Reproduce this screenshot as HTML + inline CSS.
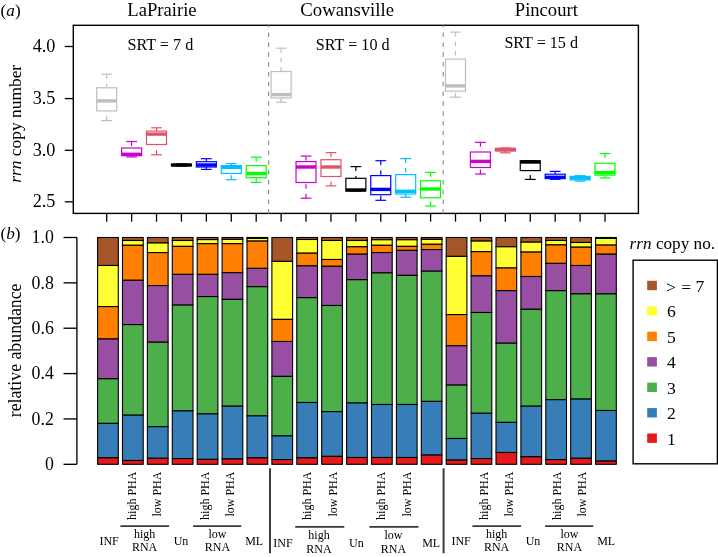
<!DOCTYPE html>
<html><head><meta charset="utf-8"><style>
html,body{margin:0;padding:0;background:#fff;}
body{width:718px;height:557px;overflow:hidden;}
svg{display:block;font-family:"Liberation Serif", serif;will-change:transform;}
</style></head><body>
<svg width="718" height="557" viewBox="0 0 718 557" fill="#000">
<rect width="718" height="557" fill="#fff"/>
<text x="0.6" y="15.7" font-size="17.2"><tspan>(</tspan><tspan font-style="italic">a</tspan><tspan>)</tspan></text>
<text x="127.3" y="15.6" font-size="18.65">LaPrairie</text>
<text x="300.3" y="15.8" font-size="18.75">Cowansville</text>
<text x="514.8" y="15.8" font-size="18.6">Pincourt</text>
<text x="127.4" y="49.5" font-size="16.2">SRT = 7 d</text>
<text x="315.8" y="49.8" font-size="16.15">SRT = 10 d</text>
<text x="504.4" y="47.8" font-size="16.1">SRT = 15 d</text>
<text transform="translate(21.1,123.8) rotate(-90)" text-anchor="middle" font-size="17.4"><tspan font-style="italic">rrn</tspan> copy number</text>
<line x1="64.8" y1="46.5" x2="73.3" y2="46.5" stroke="#000" stroke-width="1.3"/>
<text x="55.4" y="52.1" font-size="18.2" text-anchor="end">4.0</text>
<line x1="64.8" y1="98.6" x2="73.3" y2="98.6" stroke="#000" stroke-width="1.3"/>
<text x="55.4" y="104.2" font-size="18.2" text-anchor="end">3.5</text>
<line x1="64.8" y1="150.3" x2="73.3" y2="150.3" stroke="#000" stroke-width="1.3"/>
<text x="55.4" y="155.9" font-size="18.2" text-anchor="end">3.0</text>
<line x1="64.8" y1="201.8" x2="73.3" y2="201.8" stroke="#000" stroke-width="1.3"/>
<text x="55.4" y="207.4" font-size="18.2" text-anchor="end">2.5</text>
<line x1="106.70" y1="74.2" x2="106.70" y2="87.8" stroke="#bebebe" stroke-width="1.2" stroke-dasharray="4.5 5"/>
<line x1="106.70" y1="120.6" x2="106.70" y2="110.9" stroke="#bebebe" stroke-width="1.2" stroke-dasharray="4.5 5"/>
<line x1="101.30" y1="74.2" x2="112.10" y2="74.2" stroke="#bebebe" stroke-width="1.2"/>
<line x1="101.30" y1="120.6" x2="112.10" y2="120.6" stroke="#bebebe" stroke-width="1.2"/>
<rect x="96.70" y="87.8" width="20.0" height="23.10" fill="none" stroke="#bebebe" stroke-width="1.2"/>
<line x1="96.70" y1="100.9" x2="116.70" y2="100.9" stroke="#bebebe" stroke-width="3.4"/>
<line x1="131.62" y1="141.5" x2="131.62" y2="148.0" stroke="#cd00cd" stroke-width="1.2" stroke-dasharray="4.5 5"/>
<line x1="131.62" y1="156.9" x2="131.62" y2="155.7" stroke="#cd00cd" stroke-width="1.2" stroke-dasharray="4.5 5"/>
<line x1="126.22" y1="141.5" x2="137.02" y2="141.5" stroke="#cd00cd" stroke-width="1.2"/>
<line x1="126.22" y1="156.9" x2="137.02" y2="156.9" stroke="#cd00cd" stroke-width="1.2"/>
<rect x="121.62" y="148.0" width="20.0" height="7.70" fill="none" stroke="#cd00cd" stroke-width="1.2"/>
<line x1="121.62" y1="154.3" x2="141.62" y2="154.3" stroke="#cd00cd" stroke-width="3.4"/>
<line x1="156.53" y1="127.8" x2="156.53" y2="131.1" stroke="#e0536b" stroke-width="1.2" stroke-dasharray="4.5 5"/>
<line x1="156.53" y1="154.8" x2="156.53" y2="144.5" stroke="#e0536b" stroke-width="1.2" stroke-dasharray="4.5 5"/>
<line x1="151.13" y1="127.8" x2="161.93" y2="127.8" stroke="#e0536b" stroke-width="1.2"/>
<line x1="151.13" y1="154.8" x2="161.93" y2="154.8" stroke="#e0536b" stroke-width="1.2"/>
<rect x="146.53" y="131.1" width="20.0" height="13.40" fill="none" stroke="#e0536b" stroke-width="1.2"/>
<line x1="146.53" y1="134.1" x2="166.53" y2="134.1" stroke="#e0536b" stroke-width="3.4"/>
<line x1="176.04" y1="164.0" x2="186.84" y2="164.0" stroke="#000000" stroke-width="1.2"/>
<line x1="176.04" y1="166.0" x2="186.84" y2="166.0" stroke="#000000" stroke-width="1.2"/>
<rect x="171.44" y="164.3" width="20.0" height="1.40" fill="none" stroke="#000000" stroke-width="1.2"/>
<line x1="171.44" y1="165.0" x2="191.44" y2="165.0" stroke="#000000" stroke-width="3.4"/>
<line x1="206.36" y1="158.7" x2="206.36" y2="161.7" stroke="#0000ff" stroke-width="1.2" stroke-dasharray="4.5 5"/>
<line x1="206.36" y1="169.4" x2="206.36" y2="167.0" stroke="#0000ff" stroke-width="1.2" stroke-dasharray="4.5 5"/>
<line x1="200.96" y1="158.7" x2="211.76" y2="158.7" stroke="#0000ff" stroke-width="1.2"/>
<line x1="200.96" y1="169.4" x2="211.76" y2="169.4" stroke="#0000ff" stroke-width="1.2"/>
<rect x="196.36" y="161.7" width="20.0" height="5.30" fill="none" stroke="#0000ff" stroke-width="1.2"/>
<line x1="196.36" y1="165.0" x2="216.36" y2="165.0" stroke="#0000ff" stroke-width="3.4"/>
<line x1="231.27" y1="163.6" x2="231.27" y2="165.6" stroke="#00bfff" stroke-width="1.2" stroke-dasharray="4.5 5"/>
<line x1="231.27" y1="179.7" x2="231.27" y2="173.5" stroke="#00bfff" stroke-width="1.2" stroke-dasharray="4.5 5"/>
<line x1="225.87" y1="163.6" x2="236.67" y2="163.6" stroke="#00bfff" stroke-width="1.2"/>
<line x1="225.87" y1="179.7" x2="236.67" y2="179.7" stroke="#00bfff" stroke-width="1.2"/>
<rect x="221.27" y="165.6" width="20.0" height="7.90" fill="none" stroke="#00bfff" stroke-width="1.2"/>
<line x1="221.27" y1="167.3" x2="241.27" y2="167.3" stroke="#00bfff" stroke-width="3.4"/>
<line x1="256.19" y1="157.2" x2="256.19" y2="165.6" stroke="#00ff00" stroke-width="1.2" stroke-dasharray="4.5 5"/>
<line x1="256.19" y1="182.4" x2="256.19" y2="177.7" stroke="#00ff00" stroke-width="1.2" stroke-dasharray="4.5 5"/>
<line x1="250.79" y1="157.2" x2="261.59" y2="157.2" stroke="#00ff00" stroke-width="1.2"/>
<line x1="250.79" y1="182.4" x2="261.59" y2="182.4" stroke="#00ff00" stroke-width="1.2"/>
<rect x="246.19" y="165.6" width="20.0" height="12.10" fill="none" stroke="#00ff00" stroke-width="1.2"/>
<line x1="246.19" y1="173.5" x2="266.19" y2="173.5" stroke="#00ff00" stroke-width="3.4"/>
<line x1="281.11" y1="48.2" x2="281.11" y2="71.5" stroke="#bebebe" stroke-width="1.2" stroke-dasharray="4.5 5"/>
<line x1="281.11" y1="102.2" x2="281.11" y2="97.9" stroke="#bebebe" stroke-width="1.2" stroke-dasharray="4.5 5"/>
<line x1="275.71" y1="48.2" x2="286.50" y2="48.2" stroke="#bebebe" stroke-width="1.2"/>
<line x1="275.71" y1="102.2" x2="286.50" y2="102.2" stroke="#bebebe" stroke-width="1.2"/>
<rect x="271.11" y="71.5" width="20.0" height="26.40" fill="none" stroke="#bebebe" stroke-width="1.2"/>
<line x1="271.11" y1="94.6" x2="291.11" y2="94.6" stroke="#bebebe" stroke-width="3.4"/>
<line x1="306.02" y1="156.1" x2="306.02" y2="161.6" stroke="#cd00cd" stroke-width="1.2" stroke-dasharray="4.5 5"/>
<line x1="306.02" y1="198.2" x2="306.02" y2="182.5" stroke="#cd00cd" stroke-width="1.2" stroke-dasharray="4.5 5"/>
<line x1="300.62" y1="156.1" x2="311.42" y2="156.1" stroke="#cd00cd" stroke-width="1.2"/>
<line x1="300.62" y1="198.2" x2="311.42" y2="198.2" stroke="#cd00cd" stroke-width="1.2"/>
<rect x="296.02" y="161.6" width="20.0" height="20.90" fill="none" stroke="#cd00cd" stroke-width="1.2"/>
<line x1="296.02" y1="167.0" x2="316.02" y2="167.0" stroke="#cd00cd" stroke-width="3.4"/>
<line x1="330.94" y1="152.6" x2="330.94" y2="159.7" stroke="#e0536b" stroke-width="1.2" stroke-dasharray="4.5 5"/>
<line x1="330.94" y1="185.9" x2="330.94" y2="176.5" stroke="#e0536b" stroke-width="1.2" stroke-dasharray="4.5 5"/>
<line x1="325.54" y1="152.6" x2="336.33" y2="152.6" stroke="#e0536b" stroke-width="1.2"/>
<line x1="325.54" y1="185.9" x2="336.33" y2="185.9" stroke="#e0536b" stroke-width="1.2"/>
<rect x="320.94" y="159.7" width="20.0" height="16.80" fill="none" stroke="#e0536b" stroke-width="1.2"/>
<line x1="320.94" y1="167.0" x2="340.94" y2="167.0" stroke="#e0536b" stroke-width="3.4"/>
<line x1="355.85" y1="166.6" x2="355.85" y2="178.3" stroke="#000000" stroke-width="1.2" stroke-dasharray="4.5 5"/>
<line x1="350.45" y1="166.6" x2="361.25" y2="166.6" stroke="#000000" stroke-width="1.2"/>
<line x1="350.45" y1="190.9" x2="361.25" y2="190.9" stroke="#000000" stroke-width="1.2"/>
<rect x="345.85" y="178.3" width="20.0" height="12.60" fill="none" stroke="#000000" stroke-width="1.2"/>
<line x1="345.85" y1="190.0" x2="365.85" y2="190.0" stroke="#000000" stroke-width="3.4"/>
<line x1="380.76" y1="160.7" x2="380.76" y2="175.6" stroke="#0000ff" stroke-width="1.2" stroke-dasharray="4.5 5"/>
<line x1="380.76" y1="200.3" x2="380.76" y2="194.7" stroke="#0000ff" stroke-width="1.2" stroke-dasharray="4.5 5"/>
<line x1="375.37" y1="160.7" x2="386.16" y2="160.7" stroke="#0000ff" stroke-width="1.2"/>
<line x1="375.37" y1="200.3" x2="386.16" y2="200.3" stroke="#0000ff" stroke-width="1.2"/>
<rect x="370.76" y="175.6" width="20.0" height="19.10" fill="none" stroke="#0000ff" stroke-width="1.2"/>
<line x1="370.76" y1="189.4" x2="390.76" y2="189.4" stroke="#0000ff" stroke-width="3.4"/>
<line x1="405.68" y1="158.6" x2="405.68" y2="174.6" stroke="#00bfff" stroke-width="1.2" stroke-dasharray="4.5 5"/>
<line x1="405.68" y1="197.2" x2="405.68" y2="194.0" stroke="#00bfff" stroke-width="1.2" stroke-dasharray="4.5 5"/>
<line x1="400.28" y1="158.6" x2="411.08" y2="158.6" stroke="#00bfff" stroke-width="1.2"/>
<line x1="400.28" y1="197.2" x2="411.08" y2="197.2" stroke="#00bfff" stroke-width="1.2"/>
<rect x="395.68" y="174.6" width="20.0" height="19.40" fill="none" stroke="#00bfff" stroke-width="1.2"/>
<line x1="395.68" y1="191.3" x2="415.68" y2="191.3" stroke="#00bfff" stroke-width="3.4"/>
<line x1="430.59" y1="172.4" x2="430.59" y2="180.8" stroke="#00ff00" stroke-width="1.2" stroke-dasharray="4.5 5"/>
<line x1="430.59" y1="206.0" x2="430.59" y2="197.8" stroke="#00ff00" stroke-width="1.2" stroke-dasharray="4.5 5"/>
<line x1="425.19" y1="172.4" x2="435.99" y2="172.4" stroke="#00ff00" stroke-width="1.2"/>
<line x1="425.19" y1="206.0" x2="435.99" y2="206.0" stroke="#00ff00" stroke-width="1.2"/>
<rect x="420.59" y="180.8" width="20.0" height="17.00" fill="none" stroke="#00ff00" stroke-width="1.2"/>
<line x1="420.59" y1="189.0" x2="440.59" y2="189.0" stroke="#00ff00" stroke-width="3.4"/>
<line x1="455.51" y1="32.1" x2="455.51" y2="59.1" stroke="#bebebe" stroke-width="1.2" stroke-dasharray="4.5 5"/>
<line x1="455.51" y1="97.2" x2="455.51" y2="91.1" stroke="#bebebe" stroke-width="1.2" stroke-dasharray="4.5 5"/>
<line x1="450.11" y1="32.1" x2="460.91" y2="32.1" stroke="#bebebe" stroke-width="1.2"/>
<line x1="450.11" y1="97.2" x2="460.91" y2="97.2" stroke="#bebebe" stroke-width="1.2"/>
<rect x="445.51" y="59.1" width="20.0" height="32.00" fill="none" stroke="#bebebe" stroke-width="1.2"/>
<line x1="445.51" y1="85.9" x2="465.51" y2="85.9" stroke="#bebebe" stroke-width="3.4"/>
<line x1="480.42" y1="142.3" x2="480.42" y2="152.0" stroke="#cd00cd" stroke-width="1.2" stroke-dasharray="4.5 5"/>
<line x1="480.42" y1="174.0" x2="480.42" y2="167.5" stroke="#cd00cd" stroke-width="1.2" stroke-dasharray="4.5 5"/>
<line x1="475.02" y1="142.3" x2="485.82" y2="142.3" stroke="#cd00cd" stroke-width="1.2"/>
<line x1="475.02" y1="174.0" x2="485.82" y2="174.0" stroke="#cd00cd" stroke-width="1.2"/>
<rect x="470.42" y="152.0" width="20.0" height="15.50" fill="none" stroke="#cd00cd" stroke-width="1.2"/>
<line x1="470.42" y1="161.4" x2="490.42" y2="161.4" stroke="#cd00cd" stroke-width="3.4"/>
<line x1="505.34" y1="152.8" x2="505.34" y2="151.0" stroke="#e0536b" stroke-width="1.2" stroke-dasharray="4.5 5"/>
<line x1="499.94" y1="148.0" x2="510.74" y2="148.0" stroke="#e0536b" stroke-width="1.2"/>
<line x1="499.94" y1="152.8" x2="510.74" y2="152.8" stroke="#e0536b" stroke-width="1.2"/>
<rect x="495.34" y="148.3" width="20.0" height="2.70" fill="none" stroke="#e0536b" stroke-width="1.2"/>
<line x1="495.34" y1="149.6" x2="515.34" y2="149.6" stroke="#e0536b" stroke-width="3.4"/>
<line x1="530.25" y1="179.4" x2="530.25" y2="170.6" stroke="#000000" stroke-width="1.2" stroke-dasharray="4.5 5"/>
<line x1="524.86" y1="160.8" x2="535.65" y2="160.8" stroke="#000000" stroke-width="1.2"/>
<line x1="524.86" y1="179.4" x2="535.65" y2="179.4" stroke="#000000" stroke-width="1.2"/>
<rect x="520.25" y="160.8" width="20.0" height="9.80" fill="none" stroke="#000000" stroke-width="1.2"/>
<line x1="520.25" y1="162.0" x2="540.25" y2="162.0" stroke="#000000" stroke-width="3.4"/>
<line x1="555.17" y1="171.4" x2="555.17" y2="174.2" stroke="#0000ff" stroke-width="1.2" stroke-dasharray="4.5 5"/>
<line x1="555.17" y1="179.3" x2="555.17" y2="178.6" stroke="#0000ff" stroke-width="1.2" stroke-dasharray="4.5 5"/>
<line x1="549.77" y1="171.4" x2="560.57" y2="171.4" stroke="#0000ff" stroke-width="1.2"/>
<line x1="549.77" y1="179.3" x2="560.57" y2="179.3" stroke="#0000ff" stroke-width="1.2"/>
<rect x="545.17" y="174.2" width="20.0" height="4.40" fill="none" stroke="#0000ff" stroke-width="1.2"/>
<line x1="545.17" y1="177.3" x2="565.17" y2="177.3" stroke="#0000ff" stroke-width="3.4"/>
<line x1="580.09" y1="175.7" x2="580.09" y2="176.4" stroke="#00bfff" stroke-width="1.2" stroke-dasharray="4.5 5"/>
<line x1="580.09" y1="181.1" x2="580.09" y2="179.9" stroke="#00bfff" stroke-width="1.2" stroke-dasharray="4.5 5"/>
<line x1="574.69" y1="175.7" x2="585.49" y2="175.7" stroke="#00bfff" stroke-width="1.2"/>
<line x1="574.69" y1="181.1" x2="585.49" y2="181.1" stroke="#00bfff" stroke-width="1.2"/>
<rect x="570.09" y="176.4" width="20.0" height="3.50" fill="none" stroke="#00bfff" stroke-width="1.2"/>
<line x1="570.09" y1="178.0" x2="590.09" y2="178.0" stroke="#00bfff" stroke-width="3.4"/>
<line x1="605.00" y1="153.5" x2="605.00" y2="163.2" stroke="#00ff00" stroke-width="1.2" stroke-dasharray="4.5 5"/>
<line x1="605.00" y1="177.9" x2="605.00" y2="175.1" stroke="#00ff00" stroke-width="1.2" stroke-dasharray="4.5 5"/>
<line x1="599.60" y1="153.5" x2="610.40" y2="153.5" stroke="#00ff00" stroke-width="1.2"/>
<line x1="599.60" y1="177.9" x2="610.40" y2="177.9" stroke="#00ff00" stroke-width="1.2"/>
<rect x="595.00" y="163.2" width="20.0" height="11.90" fill="none" stroke="#00ff00" stroke-width="1.2"/>
<line x1="595.00" y1="172.6" x2="615.00" y2="172.6" stroke="#00ff00" stroke-width="3.4"/>
<rect x="73.3" y="25.3" width="565.10" height="188.10" fill="none" stroke="#000" stroke-width="1.4"/>
<line x1="268.6" y1="25.3" x2="268.6" y2="213.4" stroke="#939393" stroke-width="1.2" stroke-dasharray="4.5 5.32" stroke-dashoffset="2.52"/>
<line x1="443.2" y1="25.3" x2="443.2" y2="213.4" stroke="#939393" stroke-width="1.2" stroke-dasharray="4.5 5.32" stroke-dashoffset="2.52"/>
<line x1="106.70" y1="213.4" x2="106.70" y2="221.7" stroke="#000" stroke-width="1.3"/>
<line x1="131.62" y1="213.4" x2="131.62" y2="221.7" stroke="#000" stroke-width="1.3"/>
<line x1="156.53" y1="213.4" x2="156.53" y2="221.7" stroke="#000" stroke-width="1.3"/>
<line x1="181.44" y1="213.4" x2="181.44" y2="221.7" stroke="#000" stroke-width="1.3"/>
<line x1="206.36" y1="213.4" x2="206.36" y2="221.7" stroke="#000" stroke-width="1.3"/>
<line x1="231.27" y1="213.4" x2="231.27" y2="221.7" stroke="#000" stroke-width="1.3"/>
<line x1="256.19" y1="213.4" x2="256.19" y2="221.7" stroke="#000" stroke-width="1.3"/>
<line x1="281.11" y1="213.4" x2="281.11" y2="221.7" stroke="#000" stroke-width="1.3"/>
<line x1="306.02" y1="213.4" x2="306.02" y2="221.7" stroke="#000" stroke-width="1.3"/>
<line x1="330.94" y1="213.4" x2="330.94" y2="221.7" stroke="#000" stroke-width="1.3"/>
<line x1="355.85" y1="213.4" x2="355.85" y2="221.7" stroke="#000" stroke-width="1.3"/>
<line x1="380.76" y1="213.4" x2="380.76" y2="221.7" stroke="#000" stroke-width="1.3"/>
<line x1="405.68" y1="213.4" x2="405.68" y2="221.7" stroke="#000" stroke-width="1.3"/>
<line x1="430.59" y1="213.4" x2="430.59" y2="221.7" stroke="#000" stroke-width="1.3"/>
<line x1="455.51" y1="213.4" x2="455.51" y2="221.7" stroke="#000" stroke-width="1.3"/>
<line x1="480.42" y1="213.4" x2="480.42" y2="221.7" stroke="#000" stroke-width="1.3"/>
<line x1="505.34" y1="213.4" x2="505.34" y2="221.7" stroke="#000" stroke-width="1.3"/>
<line x1="530.25" y1="213.4" x2="530.25" y2="221.7" stroke="#000" stroke-width="1.3"/>
<line x1="555.17" y1="213.4" x2="555.17" y2="221.7" stroke="#000" stroke-width="1.3"/>
<line x1="580.09" y1="213.4" x2="580.09" y2="221.7" stroke="#000" stroke-width="1.3"/>
<line x1="605.00" y1="213.4" x2="605.00" y2="221.7" stroke="#000" stroke-width="1.3"/>
<rect x="97.60" y="237.50" width="20.7" height="28.00" fill="#a65628" stroke="#000" stroke-width="1.1"/>
<rect x="97.60" y="265.50" width="20.7" height="41.10" fill="#ffff33" stroke="#000" stroke-width="1.1"/>
<rect x="97.60" y="306.60" width="20.7" height="32.40" fill="#ff7f00" stroke="#000" stroke-width="1.1"/>
<rect x="97.60" y="339.00" width="20.7" height="39.80" fill="#984ea3" stroke="#000" stroke-width="1.1"/>
<rect x="97.60" y="378.80" width="20.7" height="44.60" fill="#4daf4a" stroke="#000" stroke-width="1.1"/>
<rect x="97.60" y="423.40" width="20.7" height="34.50" fill="#377eb8" stroke="#000" stroke-width="1.1"/>
<rect x="97.60" y="457.90" width="20.7" height="6.40" fill="#e41a1c" stroke="#000" stroke-width="1.1"/>
<rect x="122.50" y="237.50" width="20.7" height="3.00" fill="#a65628" stroke="#000" stroke-width="1.1"/>
<rect x="122.50" y="240.50" width="20.7" height="4.80" fill="#ffff33" stroke="#000" stroke-width="1.1"/>
<rect x="122.50" y="245.30" width="20.7" height="35.00" fill="#ff7f00" stroke="#000" stroke-width="1.1"/>
<rect x="122.50" y="280.30" width="20.7" height="44.30" fill="#984ea3" stroke="#000" stroke-width="1.1"/>
<rect x="122.50" y="324.60" width="20.7" height="90.60" fill="#4daf4a" stroke="#000" stroke-width="1.1"/>
<rect x="122.50" y="415.20" width="20.7" height="45.30" fill="#377eb8" stroke="#000" stroke-width="1.1"/>
<rect x="122.50" y="460.50" width="20.7" height="3.80" fill="#e41a1c" stroke="#000" stroke-width="1.1"/>
<rect x="147.40" y="237.50" width="20.7" height="5.50" fill="#a65628" stroke="#000" stroke-width="1.1"/>
<rect x="147.40" y="243.00" width="20.7" height="9.60" fill="#ffff33" stroke="#000" stroke-width="1.1"/>
<rect x="147.40" y="252.60" width="20.7" height="33.00" fill="#ff7f00" stroke="#000" stroke-width="1.1"/>
<rect x="147.40" y="285.60" width="20.7" height="56.60" fill="#984ea3" stroke="#000" stroke-width="1.1"/>
<rect x="147.40" y="342.20" width="20.7" height="84.50" fill="#4daf4a" stroke="#000" stroke-width="1.1"/>
<rect x="147.40" y="426.70" width="20.7" height="31.60" fill="#377eb8" stroke="#000" stroke-width="1.1"/>
<rect x="147.40" y="458.30" width="20.7" height="6.00" fill="#e41a1c" stroke="#000" stroke-width="1.1"/>
<rect x="172.30" y="237.50" width="20.7" height="3.00" fill="#a65628" stroke="#000" stroke-width="1.1"/>
<rect x="172.30" y="240.50" width="20.7" height="5.90" fill="#ffff33" stroke="#000" stroke-width="1.1"/>
<rect x="172.30" y="246.40" width="20.7" height="28.00" fill="#ff7f00" stroke="#000" stroke-width="1.1"/>
<rect x="172.30" y="274.40" width="20.7" height="30.70" fill="#984ea3" stroke="#000" stroke-width="1.1"/>
<rect x="172.30" y="305.10" width="20.7" height="105.80" fill="#4daf4a" stroke="#000" stroke-width="1.1"/>
<rect x="172.30" y="410.90" width="20.7" height="47.70" fill="#377eb8" stroke="#000" stroke-width="1.1"/>
<rect x="172.30" y="458.60" width="20.7" height="5.70" fill="#e41a1c" stroke="#000" stroke-width="1.1"/>
<rect x="197.20" y="237.50" width="20.7" height="2.10" fill="#a65628" stroke="#000" stroke-width="1.1"/>
<rect x="197.20" y="239.60" width="20.7" height="4.10" fill="#ffff33" stroke="#000" stroke-width="1.1"/>
<rect x="197.20" y="243.70" width="20.7" height="30.70" fill="#ff7f00" stroke="#000" stroke-width="1.1"/>
<rect x="197.20" y="274.40" width="20.7" height="22.20" fill="#984ea3" stroke="#000" stroke-width="1.1"/>
<rect x="197.20" y="296.60" width="20.7" height="117.30" fill="#4daf4a" stroke="#000" stroke-width="1.1"/>
<rect x="197.20" y="413.90" width="20.7" height="45.50" fill="#377eb8" stroke="#000" stroke-width="1.1"/>
<rect x="197.20" y="459.40" width="20.7" height="4.90" fill="#e41a1c" stroke="#000" stroke-width="1.1"/>
<rect x="222.10" y="237.50" width="20.7" height="1.90" fill="#a65628" stroke="#000" stroke-width="1.1"/>
<rect x="222.10" y="239.40" width="20.7" height="4.30" fill="#ffff33" stroke="#000" stroke-width="1.1"/>
<rect x="222.10" y="243.70" width="20.7" height="29.00" fill="#ff7f00" stroke="#000" stroke-width="1.1"/>
<rect x="222.10" y="272.70" width="20.7" height="26.70" fill="#984ea3" stroke="#000" stroke-width="1.1"/>
<rect x="222.10" y="299.40" width="20.7" height="106.80" fill="#4daf4a" stroke="#000" stroke-width="1.1"/>
<rect x="222.10" y="406.20" width="20.7" height="52.80" fill="#377eb8" stroke="#000" stroke-width="1.1"/>
<rect x="222.10" y="459.00" width="20.7" height="5.30" fill="#e41a1c" stroke="#000" stroke-width="1.1"/>
<rect x="247.00" y="237.50" width="20.7" height="0.90" fill="#a65628" stroke="#000" stroke-width="1.1"/>
<rect x="247.00" y="238.40" width="20.7" height="2.70" fill="#ffff33" stroke="#000" stroke-width="1.1"/>
<rect x="247.00" y="241.10" width="20.7" height="27.30" fill="#ff7f00" stroke="#000" stroke-width="1.1"/>
<rect x="247.00" y="268.40" width="20.7" height="18.30" fill="#984ea3" stroke="#000" stroke-width="1.1"/>
<rect x="247.00" y="286.70" width="20.7" height="129.20" fill="#4daf4a" stroke="#000" stroke-width="1.1"/>
<rect x="247.00" y="415.90" width="20.7" height="42.00" fill="#377eb8" stroke="#000" stroke-width="1.1"/>
<rect x="247.00" y="457.90" width="20.7" height="6.40" fill="#e41a1c" stroke="#000" stroke-width="1.1"/>
<rect x="271.90" y="237.50" width="20.7" height="23.90" fill="#a65628" stroke="#000" stroke-width="1.1"/>
<rect x="271.90" y="261.40" width="20.7" height="58.00" fill="#ffff33" stroke="#000" stroke-width="1.1"/>
<rect x="271.90" y="319.40" width="20.7" height="22.10" fill="#ff7f00" stroke="#000" stroke-width="1.1"/>
<rect x="271.90" y="341.50" width="20.7" height="34.90" fill="#984ea3" stroke="#000" stroke-width="1.1"/>
<rect x="271.90" y="376.40" width="20.7" height="59.50" fill="#4daf4a" stroke="#000" stroke-width="1.1"/>
<rect x="271.90" y="435.90" width="20.7" height="23.70" fill="#377eb8" stroke="#000" stroke-width="1.1"/>
<rect x="271.90" y="459.60" width="20.7" height="4.70" fill="#e41a1c" stroke="#000" stroke-width="1.1"/>
<rect x="296.80" y="237.50" width="20.7" height="2.00" fill="#a65628" stroke="#000" stroke-width="1.1"/>
<rect x="296.80" y="239.50" width="20.7" height="13.70" fill="#ffff33" stroke="#000" stroke-width="1.1"/>
<rect x="296.80" y="253.20" width="20.7" height="12.70" fill="#ff7f00" stroke="#000" stroke-width="1.1"/>
<rect x="296.80" y="265.90" width="20.7" height="31.80" fill="#984ea3" stroke="#000" stroke-width="1.1"/>
<rect x="296.80" y="297.70" width="20.7" height="104.80" fill="#4daf4a" stroke="#000" stroke-width="1.1"/>
<rect x="296.80" y="402.50" width="20.7" height="55.40" fill="#377eb8" stroke="#000" stroke-width="1.1"/>
<rect x="296.80" y="457.90" width="20.7" height="6.40" fill="#e41a1c" stroke="#000" stroke-width="1.1"/>
<rect x="321.70" y="237.50" width="20.7" height="3.00" fill="#a65628" stroke="#000" stroke-width="1.1"/>
<rect x="321.70" y="240.50" width="20.7" height="19.00" fill="#ffff33" stroke="#000" stroke-width="1.1"/>
<rect x="321.70" y="259.50" width="20.7" height="6.80" fill="#ff7f00" stroke="#000" stroke-width="1.1"/>
<rect x="321.70" y="266.30" width="20.7" height="39.20" fill="#984ea3" stroke="#000" stroke-width="1.1"/>
<rect x="321.70" y="305.50" width="20.7" height="106.10" fill="#4daf4a" stroke="#000" stroke-width="1.1"/>
<rect x="321.70" y="411.60" width="20.7" height="44.80" fill="#377eb8" stroke="#000" stroke-width="1.1"/>
<rect x="321.70" y="456.40" width="20.7" height="7.90" fill="#e41a1c" stroke="#000" stroke-width="1.1"/>
<rect x="346.60" y="237.50" width="20.7" height="3.00" fill="#a65628" stroke="#000" stroke-width="1.1"/>
<rect x="346.60" y="240.50" width="20.7" height="6.30" fill="#ffff33" stroke="#000" stroke-width="1.1"/>
<rect x="346.60" y="246.80" width="20.7" height="7.40" fill="#ff7f00" stroke="#000" stroke-width="1.1"/>
<rect x="346.60" y="254.20" width="20.7" height="25.50" fill="#984ea3" stroke="#000" stroke-width="1.1"/>
<rect x="346.60" y="279.70" width="20.7" height="123.30" fill="#4daf4a" stroke="#000" stroke-width="1.1"/>
<rect x="346.60" y="403.00" width="20.7" height="54.50" fill="#377eb8" stroke="#000" stroke-width="1.1"/>
<rect x="346.60" y="457.50" width="20.7" height="6.80" fill="#e41a1c" stroke="#000" stroke-width="1.1"/>
<rect x="371.50" y="237.50" width="20.7" height="2.30" fill="#a65628" stroke="#000" stroke-width="1.1"/>
<rect x="371.50" y="239.80" width="20.7" height="5.50" fill="#ffff33" stroke="#000" stroke-width="1.1"/>
<rect x="371.50" y="245.30" width="20.7" height="7.30" fill="#ff7f00" stroke="#000" stroke-width="1.1"/>
<rect x="371.50" y="252.60" width="20.7" height="20.30" fill="#984ea3" stroke="#000" stroke-width="1.1"/>
<rect x="371.50" y="272.90" width="20.7" height="131.60" fill="#4daf4a" stroke="#000" stroke-width="1.1"/>
<rect x="371.50" y="404.50" width="20.7" height="53.00" fill="#377eb8" stroke="#000" stroke-width="1.1"/>
<rect x="371.50" y="457.50" width="20.7" height="6.80" fill="#e41a1c" stroke="#000" stroke-width="1.1"/>
<rect x="396.40" y="237.50" width="20.7" height="2.30" fill="#a65628" stroke="#000" stroke-width="1.1"/>
<rect x="396.40" y="239.80" width="20.7" height="6.60" fill="#ffff33" stroke="#000" stroke-width="1.1"/>
<rect x="396.40" y="246.40" width="20.7" height="4.00" fill="#ff7f00" stroke="#000" stroke-width="1.1"/>
<rect x="396.40" y="250.40" width="20.7" height="25.00" fill="#984ea3" stroke="#000" stroke-width="1.1"/>
<rect x="396.40" y="275.40" width="20.7" height="129.10" fill="#4daf4a" stroke="#000" stroke-width="1.1"/>
<rect x="396.40" y="404.50" width="20.7" height="53.00" fill="#377eb8" stroke="#000" stroke-width="1.1"/>
<rect x="396.40" y="457.50" width="20.7" height="6.80" fill="#e41a1c" stroke="#000" stroke-width="1.1"/>
<rect x="421.30" y="237.50" width="20.7" height="1.90" fill="#a65628" stroke="#000" stroke-width="1.1"/>
<rect x="421.30" y="239.40" width="20.7" height="4.90" fill="#ffff33" stroke="#000" stroke-width="1.1"/>
<rect x="421.30" y="244.30" width="20.7" height="5.30" fill="#ff7f00" stroke="#000" stroke-width="1.1"/>
<rect x="421.30" y="249.60" width="20.7" height="21.60" fill="#984ea3" stroke="#000" stroke-width="1.1"/>
<rect x="421.30" y="271.20" width="20.7" height="130.20" fill="#4daf4a" stroke="#000" stroke-width="1.1"/>
<rect x="421.30" y="401.40" width="20.7" height="53.70" fill="#377eb8" stroke="#000" stroke-width="1.1"/>
<rect x="421.30" y="455.10" width="20.7" height="9.20" fill="#e41a1c" stroke="#000" stroke-width="1.1"/>
<rect x="446.20" y="237.50" width="20.7" height="18.90" fill="#a65628" stroke="#000" stroke-width="1.1"/>
<rect x="446.20" y="256.40" width="20.7" height="58.20" fill="#ffff33" stroke="#000" stroke-width="1.1"/>
<rect x="446.20" y="314.60" width="20.7" height="31.20" fill="#ff7f00" stroke="#000" stroke-width="1.1"/>
<rect x="446.20" y="345.80" width="20.7" height="39.30" fill="#984ea3" stroke="#000" stroke-width="1.1"/>
<rect x="446.20" y="385.10" width="20.7" height="53.40" fill="#4daf4a" stroke="#000" stroke-width="1.1"/>
<rect x="446.20" y="438.50" width="20.7" height="21.60" fill="#377eb8" stroke="#000" stroke-width="1.1"/>
<rect x="446.20" y="460.10" width="20.7" height="4.20" fill="#e41a1c" stroke="#000" stroke-width="1.1"/>
<rect x="471.10" y="237.50" width="20.7" height="3.60" fill="#a65628" stroke="#000" stroke-width="1.1"/>
<rect x="471.10" y="241.10" width="20.7" height="10.60" fill="#ffff33" stroke="#000" stroke-width="1.1"/>
<rect x="471.10" y="251.70" width="20.7" height="24.20" fill="#ff7f00" stroke="#000" stroke-width="1.1"/>
<rect x="471.10" y="275.90" width="20.7" height="36.60" fill="#984ea3" stroke="#000" stroke-width="1.1"/>
<rect x="471.10" y="312.50" width="20.7" height="100.80" fill="#4daf4a" stroke="#000" stroke-width="1.1"/>
<rect x="471.10" y="413.30" width="20.7" height="45.30" fill="#377eb8" stroke="#000" stroke-width="1.1"/>
<rect x="471.10" y="458.60" width="20.7" height="5.70" fill="#e41a1c" stroke="#000" stroke-width="1.1"/>
<rect x="496.00" y="237.50" width="20.7" height="9.30" fill="#a65628" stroke="#000" stroke-width="1.1"/>
<rect x="496.00" y="246.80" width="20.7" height="21.20" fill="#ffff33" stroke="#000" stroke-width="1.1"/>
<rect x="496.00" y="268.00" width="20.7" height="22.70" fill="#ff7f00" stroke="#000" stroke-width="1.1"/>
<rect x="496.00" y="290.70" width="20.7" height="52.50" fill="#984ea3" stroke="#000" stroke-width="1.1"/>
<rect x="496.00" y="343.20" width="20.7" height="79.20" fill="#4daf4a" stroke="#000" stroke-width="1.1"/>
<rect x="496.00" y="422.40" width="20.7" height="30.10" fill="#377eb8" stroke="#000" stroke-width="1.1"/>
<rect x="496.00" y="452.50" width="20.7" height="11.80" fill="#e41a1c" stroke="#000" stroke-width="1.1"/>
<rect x="520.90" y="237.50" width="20.7" height="4.70" fill="#a65628" stroke="#000" stroke-width="1.1"/>
<rect x="520.90" y="242.20" width="20.7" height="9.90" fill="#ffff33" stroke="#000" stroke-width="1.1"/>
<rect x="520.90" y="252.10" width="20.7" height="24.40" fill="#ff7f00" stroke="#000" stroke-width="1.1"/>
<rect x="520.90" y="276.50" width="20.7" height="32.80" fill="#984ea3" stroke="#000" stroke-width="1.1"/>
<rect x="520.90" y="309.30" width="20.7" height="96.90" fill="#4daf4a" stroke="#000" stroke-width="1.1"/>
<rect x="520.90" y="406.20" width="20.7" height="50.60" fill="#377eb8" stroke="#000" stroke-width="1.1"/>
<rect x="520.90" y="456.80" width="20.7" height="7.50" fill="#e41a1c" stroke="#000" stroke-width="1.1"/>
<rect x="545.80" y="237.50" width="20.7" height="3.00" fill="#a65628" stroke="#000" stroke-width="1.1"/>
<rect x="545.80" y="240.50" width="20.7" height="4.40" fill="#ffff33" stroke="#000" stroke-width="1.1"/>
<rect x="545.80" y="244.90" width="20.7" height="18.50" fill="#ff7f00" stroke="#000" stroke-width="1.1"/>
<rect x="545.80" y="263.40" width="20.7" height="27.30" fill="#984ea3" stroke="#000" stroke-width="1.1"/>
<rect x="545.80" y="290.70" width="20.7" height="109.00" fill="#4daf4a" stroke="#000" stroke-width="1.1"/>
<rect x="545.80" y="399.70" width="20.7" height="59.90" fill="#377eb8" stroke="#000" stroke-width="1.1"/>
<rect x="545.80" y="459.60" width="20.7" height="4.70" fill="#e41a1c" stroke="#000" stroke-width="1.1"/>
<rect x="570.70" y="237.50" width="20.7" height="5.00" fill="#a65628" stroke="#000" stroke-width="1.1"/>
<rect x="570.70" y="242.50" width="20.7" height="4.70" fill="#ffff33" stroke="#000" stroke-width="1.1"/>
<rect x="570.70" y="247.20" width="20.7" height="18.30" fill="#ff7f00" stroke="#000" stroke-width="1.1"/>
<rect x="570.70" y="265.50" width="20.7" height="28.40" fill="#984ea3" stroke="#000" stroke-width="1.1"/>
<rect x="570.70" y="293.90" width="20.7" height="105.20" fill="#4daf4a" stroke="#000" stroke-width="1.1"/>
<rect x="570.70" y="399.10" width="20.7" height="59.20" fill="#377eb8" stroke="#000" stroke-width="1.1"/>
<rect x="570.70" y="458.30" width="20.7" height="6.00" fill="#e41a1c" stroke="#000" stroke-width="1.1"/>
<rect x="595.60" y="237.50" width="20.7" height="0.90" fill="#a65628" stroke="#000" stroke-width="1.1"/>
<rect x="595.60" y="238.40" width="20.7" height="6.70" fill="#ffff33" stroke="#000" stroke-width="1.1"/>
<rect x="595.60" y="245.10" width="20.7" height="9.10" fill="#ff7f00" stroke="#000" stroke-width="1.1"/>
<rect x="595.60" y="254.20" width="20.7" height="39.70" fill="#984ea3" stroke="#000" stroke-width="1.1"/>
<rect x="595.60" y="293.90" width="20.7" height="116.60" fill="#4daf4a" stroke="#000" stroke-width="1.1"/>
<rect x="595.60" y="410.50" width="20.7" height="50.60" fill="#377eb8" stroke="#000" stroke-width="1.1"/>
<rect x="595.60" y="461.10" width="20.7" height="3.20" fill="#e41a1c" stroke="#000" stroke-width="1.1"/>
<line x1="76.9" y1="237.5" x2="76.9" y2="464.3" stroke="#000" stroke-width="1.35"/>
<line x1="63.5" y1="464.30" x2="76.9" y2="464.30" stroke="#000" stroke-width="1.35"/>
<text x="53.8" y="469.9" font-size="17.8" text-anchor="end">0</text>
<line x1="63.5" y1="418.94" x2="76.9" y2="418.94" stroke="#000" stroke-width="1.35"/>
<text x="53.8" y="424.5" font-size="17.8" text-anchor="end">0.2</text>
<line x1="63.5" y1="373.58" x2="76.9" y2="373.58" stroke="#000" stroke-width="1.35"/>
<text x="53.8" y="379.2" font-size="17.8" text-anchor="end">0.4</text>
<line x1="63.5" y1="328.22" x2="76.9" y2="328.22" stroke="#000" stroke-width="1.35"/>
<text x="53.8" y="333.8" font-size="17.8" text-anchor="end">0.6</text>
<line x1="63.5" y1="282.86" x2="76.9" y2="282.86" stroke="#000" stroke-width="1.35"/>
<text x="53.8" y="288.5" font-size="17.8" text-anchor="end">0.8</text>
<line x1="63.5" y1="237.50" x2="76.9" y2="237.50" stroke="#000" stroke-width="1.35"/>
<text x="53.8" y="243.1" font-size="17.8" text-anchor="end">1.0</text>
<text x="0.5" y="239.1" font-size="17.2"><tspan>(</tspan><tspan font-style="italic">b</tspan><tspan>)</tspan></text>
<text transform="translate(21.1,350.4) rotate(-90)" text-anchor="middle" font-size="17.8">relative abundance</text>
<text x="629.6" y="249.4" font-size="17.2"><tspan font-style="italic">rrn</tspan> copy no.</text>
<rect x="633.1" y="260.2" width="84.3" height="203.6" fill="none" stroke="#000" stroke-width="1.4"/>
<rect x="647.2" y="280.80" width="9.7" height="9.4" fill="#a65628"/>
<text x="666.0" y="292.9" font-size="17.6">&gt;</text>
<text x="681.3" y="292.9" font-size="17.6">=</text>
<text x="695.6" y="291.8" font-size="17.6">7</text>
<rect x="647.2" y="306.25" width="9.7" height="9.4" fill="#ffff33"/>
<text x="666.9" y="317.2" font-size="17.6">6</text>
<rect x="647.2" y="331.70" width="9.7" height="9.4" fill="#ff7f00"/>
<text x="666.9" y="342.7" font-size="17.6">5</text>
<rect x="647.2" y="357.15" width="9.7" height="9.4" fill="#984ea3"/>
<text x="666.9" y="368.2" font-size="17.6">4</text>
<rect x="647.2" y="382.60" width="9.7" height="9.4" fill="#4daf4a"/>
<text x="666.9" y="393.6" font-size="17.6">3</text>
<rect x="647.2" y="408.05" width="9.7" height="9.4" fill="#377eb8"/>
<text x="666.9" y="419.1" font-size="17.6">2</text>
<rect x="647.2" y="433.50" width="9.7" height="9.4" fill="#e41a1c"/>
<text x="666.9" y="444.5" font-size="17.6">1</text>
<text x="109.1" y="544.6" font-size="12.0" text-anchor="middle">INF</text>
<text x="181.0" y="544.6" font-size="12.0" text-anchor="middle">Un</text>
<text x="254.2" y="544.6" font-size="12.0" text-anchor="middle">ML</text>
<text transform="translate(136.3,471.6) rotate(-90)" text-anchor="end" font-size="12.0">high PHA</text>
<text transform="translate(161.3,471.6) rotate(-90)" text-anchor="end" font-size="12.0">low PHA</text>
<line x1="120.4" y1="526.1" x2="169.1" y2="526.1" stroke="#3a3a3a" stroke-width="1.8"/>
<text x="144.6" y="537.7" font-size="12.0" text-anchor="middle">high</text>
<text x="144.6" y="551.2" font-size="12.0" text-anchor="middle">RNA</text>
<text transform="translate(209.0,471.6) rotate(-90)" text-anchor="end" font-size="12.0">high PHA</text>
<text transform="translate(233.7,471.6) rotate(-90)" text-anchor="end" font-size="12.0">low PHA</text>
<line x1="193.1" y1="526.1" x2="241.3" y2="526.1" stroke="#3a3a3a" stroke-width="1.8"/>
<text x="217.4" y="537.7" font-size="12.0" text-anchor="middle">low</text>
<text x="217.4" y="551.2" font-size="12.0" text-anchor="middle">RNA</text>
<text x="461.1" y="544.6" font-size="12.0" text-anchor="middle">INF</text>
<text x="533.0" y="544.6" font-size="12.0" text-anchor="middle">Un</text>
<text x="606.2" y="544.6" font-size="12.0" text-anchor="middle">ML</text>
<text transform="translate(488.3,471.6) rotate(-90)" text-anchor="end" font-size="12.0">high PHA</text>
<text transform="translate(513.3,471.6) rotate(-90)" text-anchor="end" font-size="12.0">low PHA</text>
<line x1="472.4" y1="526.1" x2="521.1" y2="526.1" stroke="#3a3a3a" stroke-width="1.8"/>
<text x="496.6" y="537.7" font-size="12.0" text-anchor="middle">high</text>
<text x="496.6" y="551.2" font-size="12.0" text-anchor="middle">RNA</text>
<text transform="translate(561.0,471.6) rotate(-90)" text-anchor="end" font-size="12.0">high PHA</text>
<text transform="translate(585.7,471.6) rotate(-90)" text-anchor="end" font-size="12.0">low PHA</text>
<line x1="545.1" y1="526.1" x2="593.3" y2="526.1" stroke="#3a3a3a" stroke-width="1.8"/>
<text x="569.4" y="537.7" font-size="12.0" text-anchor="middle">low</text>
<text x="569.4" y="551.2" font-size="12.0" text-anchor="middle">RNA</text>
<text x="282.9" y="546.7" font-size="12.0" text-anchor="middle">INF</text>
<text x="356.4" y="546.7" font-size="12.0" text-anchor="middle">Un</text>
<text x="431.2" y="546.7" font-size="12.0" text-anchor="middle">ML</text>
<text transform="translate(311.3,471.6) rotate(-90)" text-anchor="end" font-size="12.0">high PHA</text>
<text transform="translate(336.7,471.6) rotate(-90)" text-anchor="end" font-size="12.0">low PHA</text>
<line x1="295.2" y1="526.9" x2="344.3" y2="526.9" stroke="#3a3a3a" stroke-width="1.8"/>
<text x="319.0" y="538.5" font-size="12.0" text-anchor="middle">high</text>
<text x="319.0" y="552.5" font-size="12.0" text-anchor="middle">RNA</text>
<text transform="translate(385.3,471.6) rotate(-90)" text-anchor="end" font-size="12.0">high PHA</text>
<text transform="translate(410.9,471.6) rotate(-90)" text-anchor="end" font-size="12.0">low PHA</text>
<line x1="369.4" y1="526.9" x2="418.5" y2="526.9" stroke="#3a3a3a" stroke-width="1.8"/>
<text x="393.4" y="538.5" font-size="12.0" text-anchor="middle">low</text>
<text x="393.4" y="552.5" font-size="12.0" text-anchor="middle">RNA</text>
<line x1="270.0" y1="468.3" x2="270.0" y2="553.2" stroke="#3a3a3a" stroke-width="2"/>
<line x1="443.6" y1="468.3" x2="443.6" y2="553.2" stroke="#3a3a3a" stroke-width="2"/>
</svg>
</body></html>
